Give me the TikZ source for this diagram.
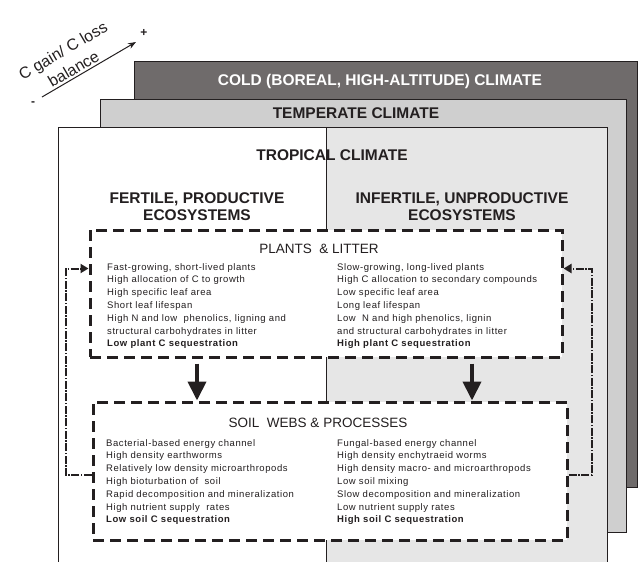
\documentclass[tikz,border=0pt]{standalone}
\usepackage{fontspec}
\setmainfont{Liberation Sans}
\newfontfamily\itemfont[LetterSpace=6]{Liberation Sans}
\usetikzlibrary{arrows.meta,positioning}
\definecolor{ink}{RGB}{35,31,32}
\definecolor{coldgray}{RGB}{111,107,107}
\definecolor{tempgray}{RGB}{207,207,207}
\definecolor{tropgray}{RGB}{230,230,230}

\tikzset{
  climate/.style={draw=ink, line width=1pt},
  zonetitle/.style={font=\fontsize{15.5}{17}\selectfont\bfseries, text=ink, align=center, inner sep=0pt},
  boxtitle/.style={font=\fontsize{13.5}{15}\selectfont, text=ink, inner sep=0pt},
  dbox/.style={draw=ink, fill=white, line width=3pt, dash pattern=on 11pt off 6pt},
  items/.style={font=\itemfont\fontsize{9.5}{12.8}\selectfont, align=left, anchor=north west, inner sep=0pt, text=ink},
  down/.style={-{Triangle[length=19pt,width=18pt]}, line width=4pt, draw=ink},
  feedback/.style={-{Triangle[length=8pt,width=9pt]}, line width=2pt, draw=ink, dash pattern=on 8pt off 1.5pt on 1.5pt off 1.5pt},
  balance/.style={font=\fontsize{16}{21}\selectfont, text=ink, align=center, inner sep=0pt}
}

\begin{document}
\begin{tikzpicture}[x=1pt,y=-1pt]
  \useasboundingbox (0,0) rectangle (640,562);
  \clip (0,0) rectangle (640,562);
  % climate zones
  \filldraw[climate, fill=coldgray] (134,61) rectangle (637,487);
  \filldraw[climate, fill=tempgray] (100,99) rectangle (626,532);
  \filldraw[climate, fill=white]    (58,127) rectangle (607,580);
  \filldraw[climate, fill=tropgray] (326,127) rectangle (607,580);

  \node[zonetitle, text=white] (cold) at (380,81)  {COLD (BOREAL, HIGH-ALTITUDE) CLIMATE};
  \node[zonetitle]            (temp) at (356,113) {TEMPERATE CLIMATE};
  \node[zonetitle]            (trop) at (332,155) {TROPICAL CLIMATE};
  \node[zonetitle]  (fert)   at (197,207) {FERTILE, PRODUCTIVE\\ECOSYSTEMS};
  \node[zonetitle]  (infert) at (462,207) {INFERTILE, UNPRODUCTIVE\\ECOSYSTEMS};

  % C balance axis
  \coordinate (lo) at (42,97);
  \coordinate (hi) at (136,42);
  \draw[ink, line width=1pt, -{Stealth[length=8pt,width=6pt]}] (lo) --
    node[balance, pos=0.38, above=2pt, sloped] (gain) {C gain/ C loss\\balance} (hi);
  \node[font=\bfseries\large, text=ink] (minus) at (33,104) {-};
  \node[font=\bfseries\large, text=ink] (plus)  at (144,33) {+};

  % plants and soil
  \node[dbox, minimum width=472pt, minimum height=127pt] (plants) at (326,293.5) {};
  \node[boxtitle] (plantst) at (319,249) {PLANTS \ \& LITTER};
  \node[items] (plantsl) at (107,263) {Fast-growing, short-lived plants\\
    High allocation of C to growth\\
    High specific leaf area\\
    Short leaf lifespan\\
    High N and low \ phenolics, ligning and\\
    structural carbohydrates in litter\\
    \textbf{Low plant C sequestration}};
  \node[items] (plantsr) at (337,263) {Slow-growing, long-lived plants\\
    High C allocation to secondary compounds\\
    Low specific leaf area\\
    Long leaf lifespan\\
    Low \ N and high phenolics, lignin\\
    and structural carbohydrates in litter\\
    \textbf{High plant C sequestration}};

  \node[dbox, minimum width=474pt, minimum height=138pt] (soil) at (330,471) {};
  \node[boxtitle] (soilt) at (318,423) {SOIL \ WEBS \& PROCESSES};
  \node[items] (soill) at (106,439) {Bacterial-based energy channel\\
    High density earthworms\\
    Relatively low density microarthropods\\
    High bioturbation of \ soil\\
    Rapid decomposition and mineralization\\
    High nutrient supply \ rates\\
    \textbf{Low soil C sequestration}};
  \node[items] (soilr) at (337,439) {Fungal-based energy channel\\
    High density enchytraeid worms\\
    High density macro- and microarthropods\\
    Low soil mixing\\
    Slow decomposition and mineralization\\
    Low nutrient supply rates\\
    \textbf{High soil C sequestration}};

  \draw[down] ([yshift=-5pt]plants.south -| fert) -- (soil.north -| fert);
  \draw[down] ([xshift=10pt,yshift=-5pt]plants.south -| infert) -- ([xshift=10pt]soil.north -| infert);
  \draw[feedback] ([yshift=-4pt]soil.west) -- ++(-26,0) |- ([yshift=25pt]plants.west);
  \draw[feedback] ([yshift=-4pt]soil.east) -- ++(23,0) |- ([yshift=25pt]plants.east);
\end{tikzpicture}
\end{document}
